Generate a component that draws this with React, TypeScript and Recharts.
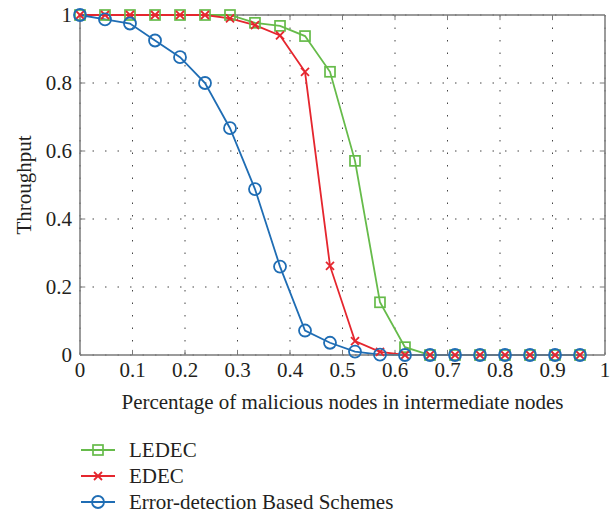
import { LineChart, Line, XAxis, YAxis, CartesianGrid, ReferenceLine, Legend } from "recharts"

const xValues = [0, 0.0476, 0.0952, 0.1429, 0.1905, 0.2381, 0.2857, 0.3333, 0.381, 0.4286, 0.4762, 0.5238, 0.5714, 0.619, 0.6667, 0.7143, 0.7619, 0.8095, 0.8571, 0.9048, 0.9524]
const ledec = [1, 1, 1, 1, 1, 1, 1, 0.977, 0.968, 0.938, 0.833, 0.571, 0.155, 0.023, 0, 0, 0, 0, 0, 0, 0]
const edec = [1, 1, 1, 1, 1, 1, 0.99, 0.97, 0.94, 0.833, 0.262, 0.041, 0.009, 0, 0, 0, 0, 0, 0, 0, 0]
const errDetect = [1, 0.987, 0.975, 0.925, 0.876, 0.8, 0.667, 0.488, 0.26, 0.072, 0.036, 0.01, 0.001, 0, 0, 0, 0, 0, 0, 0, 0]

const xTicks = [0, 0.1, 0.2, 0.3, 0.4, 0.5, 0.6, 0.7, 0.8, 0.9, 1]
const yTicks = [0, 0.2, 0.4, 0.6, 0.8, 1]

const GREEN = "#66bb4a"
const RED = "#e5262e"
const BLUE = "#1f6db4"
const AXIS = "#7a7a7a"
const TEXT = "#231f20"
const FONT = "'Liberation Serif', 'DejaVu Serif', serif"
const FS = 21

const data = xValues.map((x, i) => ({
  x,
  ledec: ledec[i],
  edec: edec[i],
  err: errDetect[i],
}))

type Marker = "square" | "cross" | "circle"

const series: { key: string; name: string; color: string; marker: Marker }[] = [
  { key: "ledec", name: "LEDEC", color: GREEN, marker: "square" },
  { key: "edec", name: "EDEC", color: RED, marker: "cross" },
  { key: "err", name: "Error-detection Based Schemes", color: BLUE, marker: "circle" },
]

function MarkerShape({ cx, cy, color, marker }: { cx: number; cy: number; color: string; marker: Marker }) {
  if (marker === "square") {
    return <rect x={cx - 5} y={cy - 5} width={10} height={10} fill="none" stroke={color} strokeWidth={1.7} />
  }
  if (marker === "cross") {
    return (
      <g stroke={color} strokeWidth={1.8}>
        <line x1={cx - 4} y1={cy - 4} x2={cx + 4} y2={cy + 4} />
        <line x1={cx - 4} y1={cy + 4} x2={cx + 4} y2={cy - 4} />
      </g>
    )
  }
  return <circle cx={cx} cy={cy} r={6} fill="none" stroke={color} strokeWidth={1.8} />
}

const makeDot = (color: string, marker: Marker) => (props: any) => {
  const { cx, cy, index } = props
  if (cx == null || cy == null) return <g key={index} />
  return <MarkerShape key={index} cx={cx} cy={cy} color={color} marker={marker} />
}

function LegendBox() {
  return (
    <svg width={340} height={76} style={{ display: "block" }}>
      {series.map((s, i) => {
        const y = 12 + i * 26
        return (
          <g key={s.key}>
            <line x1={0} y1={y} x2={34} y2={y} stroke={s.color} strokeWidth={1.8} />
            <MarkerShape cx={17} cy={y} color={s.color} marker={s.marker} />
            <text x={48} y={y} dy="0.35em" fontFamily={FONT} fontSize={FS} fill={TEXT}>
              {s.name}
            </text>
          </g>
        )
      })}
    </svg>
  )
}

export default function App() {
  return (
    <div style={{ position: "absolute", left: 0, top: 0, background: "#fff" }}>
      <LineChart width={613} height={515} data={data} margin={{ top: 15, right: 8, left: 0, bottom: 100 }}>
        <CartesianGrid stroke="#444" strokeDasharray="1.5 11" strokeWidth={1} />
        <XAxis
          dataKey="x"
          type="number"
          domain={[0, 1]}
          ticks={xTicks}
          height={60}
          stroke={AXIS}
          strokeWidth={1.5}
          tickLine={false}
          tickSize={0}
          tickMargin={7}
          tick={{ fontFamily: FONT, fontSize: FS, fill: TEXT }}
          label={{
            value: "Percentage of malicious nodes in intermediate nodes",
            position: "insideBottom",
            offset: 6,
            style: { fontFamily: FONT, fontSize: FS, fill: TEXT },
          }}
        />
        <YAxis
          type="number"
          domain={[0, 1]}
          ticks={yTicks}
          width={80}
          stroke={AXIS}
          strokeWidth={1.5}
          tickLine={false}
          tickSize={0}
          tickMargin={8}
          tick={{ fontFamily: FONT, fontSize: FS, fill: TEXT }}
          label={{
            value: "Throughput",
            angle: -90,
            position: "insideLeft",
            offset: 24,
            style: { fontFamily: FONT, fontSize: FS, fill: TEXT, textAnchor: "middle" },
          }}
        />
        <ReferenceLine y={1} stroke={AXIS} strokeWidth={1.5} />
        <ReferenceLine x={1} stroke={AXIS} strokeWidth={1.5} />
        {xTicks.slice(1, -1).map(t => (
          <ReferenceLine key={"bx" + t} segment={[{ x: t, y: 0 }, { x: t, y: 0.015 }]} stroke={AXIS} strokeWidth={1} />
        ))}
        {xTicks.slice(1, -1).map(t => (
          <ReferenceLine key={"tx" + t} segment={[{ x: t, y: 1 }, { x: t, y: 0.985 }]} stroke={AXIS} strokeWidth={1} />
        ))}
        {yTicks.slice(1, -1).map(t => (
          <ReferenceLine key={"ly" + t} segment={[{ x: 0, y: t }, { x: 0.01, y: t }]} stroke={AXIS} strokeWidth={1} />
        ))}
        {yTicks.slice(1, -1).map(t => (
          <ReferenceLine key={"ry" + t} segment={[{ x: 1, y: t }, { x: 0.99, y: t }]} stroke={AXIS} strokeWidth={1} />
        ))}
        {series.map(s => (
          <Line
            key={s.key}
            dataKey={s.key}
            name={s.name}
            type="linear"
            stroke={s.color}
            strokeWidth={1.8}
            dot={makeDot(s.color, s.marker)}
            activeDot={false}
            isAnimationActive={false}
          />
        ))}
        <Legend
          layout="horizontal"
          verticalAlign="middle"
          align="center"
          wrapperStyle={{ left: 81, top: 438, width: 340, height: 76 }}
          content={() => <LegendBox />}
        />
      </LineChart>
    </div>
  )
}
